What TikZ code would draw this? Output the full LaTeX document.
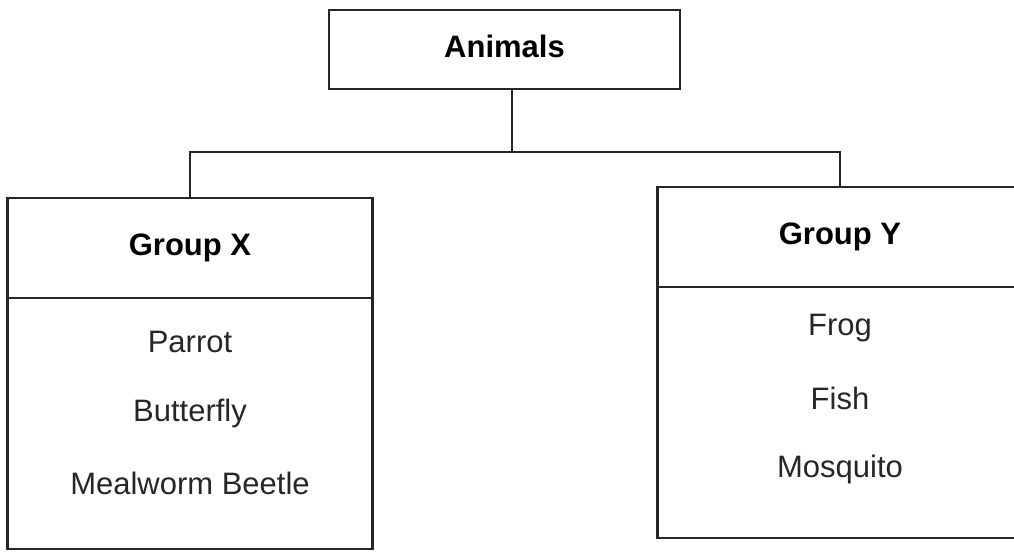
\documentclass[tikz,border=0pt]{standalone}
\usepackage{fontspec}
\setmainfont{Liberation Sans}
\usepackage{xcolor}
\usepackage{tikz}
\usetikzlibrary{positioning,calc}
\definecolor{scanink}{HTML}{262626}
\tikzset{
  treeroot/.style={draw=scanink,line width=2.2pt,minimum width=351pt,minimum height=79pt,font=\fontsize{31}{37}\selectfont\bfseries,inner sep=0pt},
  treebox/.style={draw=scanink,line width=2.2pt,minimum width=365pt,minimum height=351pt,inner sep=0pt},
  treehead/.style={draw=scanink,line width=2.2pt,minimum width=365pt,minimum height=100pt,anchor=north,font=\fontsize{31}{37}\selectfont\bfseries,inner sep=0pt},
  treeitem/.style={font=\fontsize{31}{37}\selectfont,text=scanink,inner sep=0pt},
  treelink/.style={draw=scanink,line width=2.2pt}
}
\begin{document}
\begin{tikzpicture}[x=1pt,y=-1pt]
\useasboundingbox (0,0) rectangle (1014,554);
\node[treeroot] (animals) at (504.5,49.5) {\raisebox{6pt}{Animals}};
\node[treebox] (groupx) at (190,373.5) {};
\node[treebox] (groupy) at (840,362.5) {};
\node[treehead] (gxhead) at (groupx.north) {Group X};
\node[treehead] (gyhead) at (groupy.north) {Group Y};
\node[treeitem] (parrot) at (190,342) {Parrot};
\node[treeitem,below=71pt of parrot.center,anchor=center] (butterfly) {Butterfly};
\node[treeitem,below=70pt of butterfly.center,anchor=center] (mealworm) {Mealworm Beetle};
\node[treeitem] (frog) at (840,328) {Frog};
\node[treeitem,below=70pt of frog.center,anchor=center] (fish) {Fish};
\node[treeitem,below=71pt of fish.center,anchor=center] (mosquito) {Mosquito};
\coordinate (fork) at (512,152);
\draw[treelink] (fork |- animals.south) -- (fork);
\draw[treelink] (gxhead.north) |- (fork) -| (gyhead.north);
\end{tikzpicture}
\end{document}
